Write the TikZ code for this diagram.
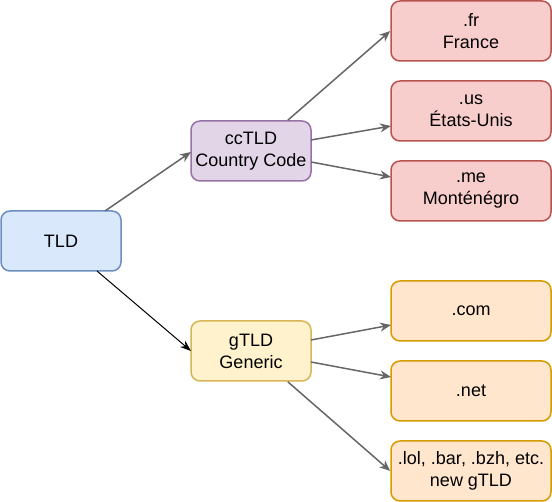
\documentclass[tikz,border=0pt]{standalone}
\usepackage{fontspec}
\setmainfont{Liberation Sans}
\usetikzlibrary{arrows.meta}
\definecolor{bluef}{HTML}{DAE8FC}\definecolor{blues}{HTML}{6C8EBF}
\definecolor{purf}{HTML}{E1D5E7}\definecolor{purs}{HTML}{9673A6}
\definecolor{yelf}{HTML}{FFF2CC}\definecolor{yels}{HTML}{D6B656}
\definecolor{redf}{HTML}{F8CECC}\definecolor{reds}{HTML}{B85450}
\definecolor{orf}{HTML}{FFE6CC}\definecolor{ors}{HTML}{D79B00}
\definecolor{arr}{HTML}{666666}
\tikzset{
  box/.style={draw, rounded corners=9pt, line width=1.5pt, align=center, inner sep=0pt, font=\fontsize{18pt}{22pt}\selectfont},
  smallbox/.style={box, minimum width=120pt, minimum height=60pt},
  bigbox/.style={box, minimum width=160pt, minimum height=60pt},
  conn/.style={draw=arr, line width=1.5pt, -{Stealth[length=11pt,width=9pt,inset=3.5pt]}},
  connb/.style={draw=black, line width=1pt, -{Stealth[length=11pt,width=8pt,inset=3.5pt]}},
}
\begin{document}
\begin{tikzpicture}[x=1pt,y=-1pt]
\useasboundingbox (0,0) rectangle (552,502);
\node[smallbox, fill=bluef, draw=blues] (tld) at (61,241) {TLD};
\node[smallbox, fill=purf, draw=purs] (cc) at (251,151) {ccTLD\\Country Code};
\node[smallbox, fill=yelf, draw=yels] (g) at (251,351) {gTLD\\Generic};
\node[bigbox, fill=redf, draw=reds] (fr) at (471,31) {.fr\\France};
\node[bigbox, fill=redf, draw=reds] (us) at (471,111) {.us\\États-Unis};
\node[bigbox, fill=redf, draw=reds] (me) at (471,191) {.me\\Monténégro};
\node[bigbox, fill=orf, draw=ors] (com) at (471,311) {.com};
\node[bigbox, fill=orf, draw=ors] (net) at (471,391) {.net};
\node[bigbox, fill=orf, draw=ors] (lol) at (471,471) {.lol, .bar, .bzh, etc.\\new gTLD};
\coordinate (a1) at (105,211); \coordinate (a2) at (191,152);
\draw[conn] (a1) -- (a2);
\coordinate (b1) at (97,271); \coordinate (b2) at (191,351);
\draw[connb] (b1) -- (b2);
\draw[conn] (cc.north east) ++(-24,0) coordinate (c1) -- (fr.west);
\coordinate (d1) at (311,140); \coordinate (d2) at (391,126);
\draw[conn] (d1) -- (d2);
\coordinate (e1) at (311,162); \coordinate (e2) at (391,177);
\draw[conn] (e1) -- (e2);
\coordinate (f1) at (311,340); \coordinate (f2) at (391,325);
\draw[conn] (f1) -- (f2);
\coordinate (h1) at (311,362); \coordinate (h2) at (391,377);
\draw[conn] (h1) -- (h2);
\draw[conn] (g.south east) ++(-24,0) coordinate (i1) -- (lol.west);
\end{tikzpicture}
\end{document}
